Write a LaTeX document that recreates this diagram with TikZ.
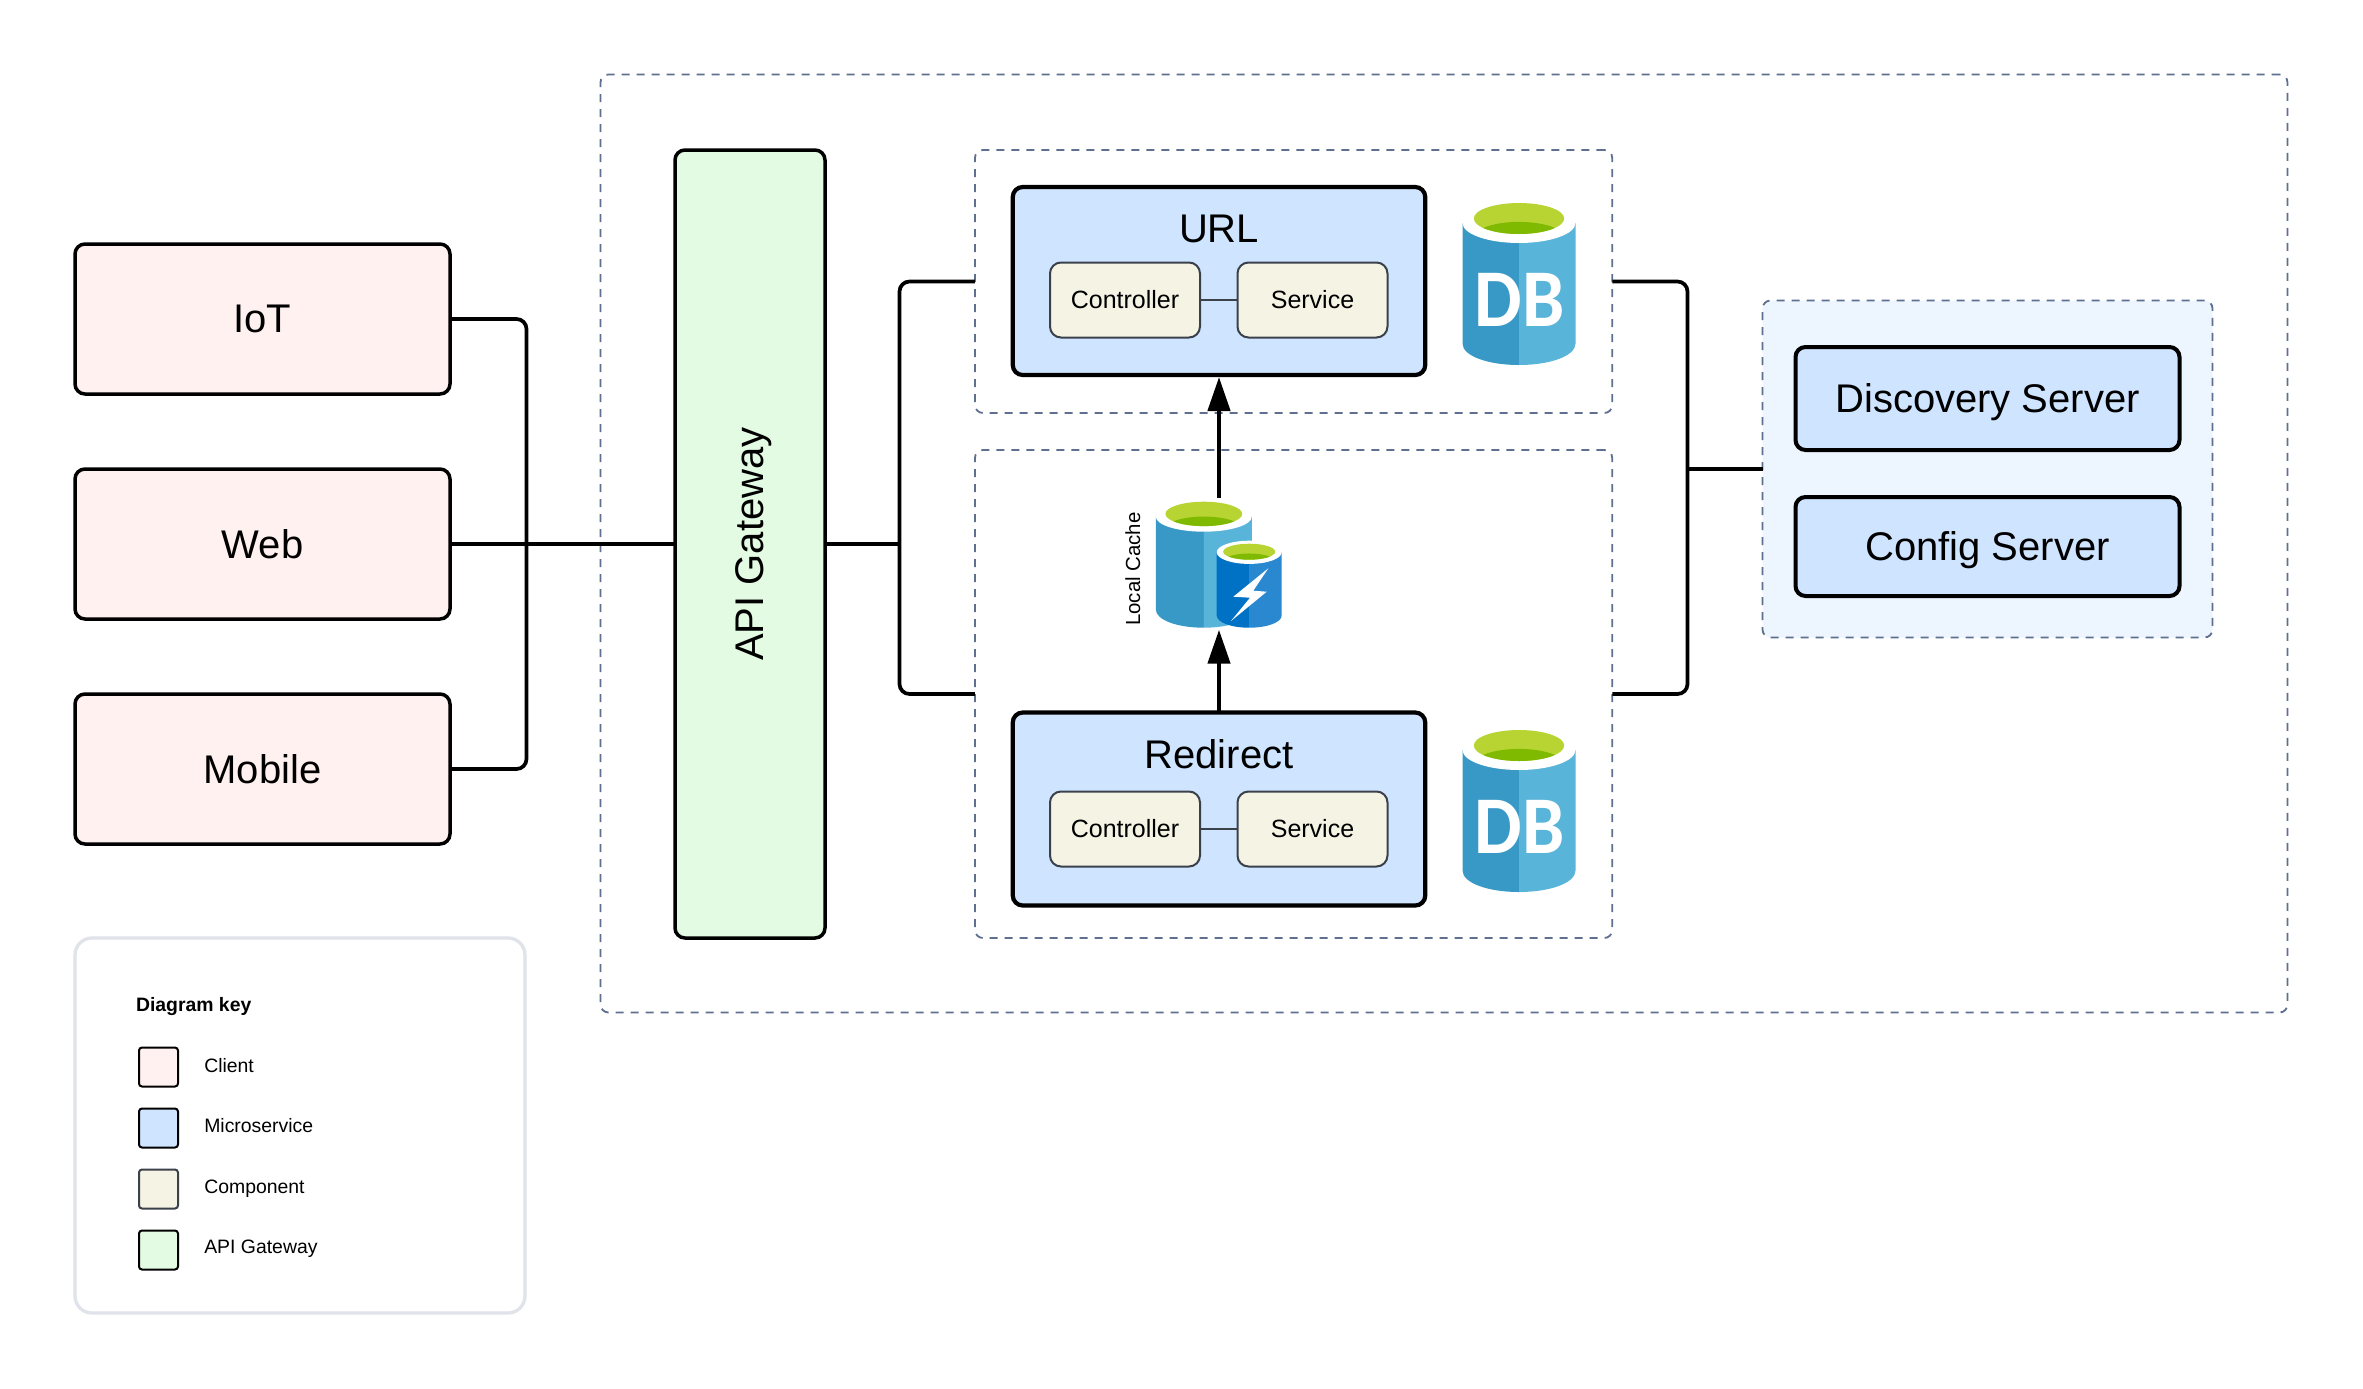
\documentclass[tikz,border=0pt]{standalone}
\usepackage{graphicx}
\usepackage{fontspec}
\setmainfont{Liberation Sans}
\newfontfamily\dbfont{Carlito}
\usetikzlibrary{arrows.meta}
\definecolor{dashc}{HTML}{5E6F8F}
\definecolor{clientc}{HTML}{FFF1F0}
\definecolor{msc}{HTML}{CFE4FF}
\definecolor{compc}{HTML}{F5F3E4}
\definecolor{gwc}{HTML}{E3FAE3}
\definecolor{infrac}{HTML}{EDF5FF}
\definecolor{compline}{HTML}{3A414A}
\definecolor{keyline}{HTML}{E0E3EA}
\definecolor{dbdark}{HTML}{3999C6}
\definecolor{dblight}{HTML}{59B4D9}
\definecolor{cachedark}{HTML}{0072C6}
\definecolor{cachelight}{HTML}{2A88D0}
\definecolor{greenlight}{HTML}{B8D432}
\definecolor{greendark}{HTML}{7FBA00}
\tikzset{
  every node/.style={inner sep=0pt,outer sep=0pt},
  bigtext/.style={font=\fontsize{20}{24}\selectfont,text=black},
  smalltext/.style={font=\fontsize{12.5}{15}\selectfont,text=black},
  keytext/.style={font=\fontsize{9.7}{12}\selectfont,text=black,anchor=west},
  clientbox/.style={bigtext,draw=black,fill=clientc,line width=1.75pt,rounded corners=5pt,minimum width=187.5pt,minimum height=75pt},
  gatewaybox/.style={draw=black,fill=gwc,line width=1.75pt,rounded corners=5pt,minimum width=75pt,minimum height=394pt},
  msbox/.style={draw=black,fill=msc,line width=2.1pt,rounded corners=5pt,minimum width=206.25pt},
  infrabox/.style={draw=black,fill=msc,line width=2pt,rounded corners=5pt,minimum width=192pt},
  compbox/.style={draw=compline,fill=compc,line width=1pt,rounded corners=5.5pt,minimum width=75pt,minimum height=37.5pt},
  groupbox/.style={draw=dashc,line width=.9pt,dash pattern=on 4pt off 3.5pt,rounded corners=4pt},
  keybox/.style={draw=keyline,line width=1.65pt,rounded corners=8.5pt,fill=white,minimum width=225pt,minimum height=187.5pt},
  swatch/.style={line width=1pt,rounded corners=1.5pt,minimum width=19.5pt,minimum height=19.5pt},
  conn/.style={draw=black,line width=1.85pt,rounded corners=5pt},
  compconn/.style={draw=compline,line width=1pt},
  callarrow/.style={draw=black,line width=2.25pt,-{Triangle[width=11pt,length=17pt]}},
  dbmark/.style={text=white,font=\dbfont\bfseries\fontsize{41}{41}\selectfont}
}
% cx rx top bottom rim-ry green-ry green-top dark light
\newcommand{\cylicon}[9]{%
  \fill[#8] (#1-#2,#3+#5) -- (#1,#3+#5) -- (#1,#4)
    .. controls (#1-.55*#2,#4) and (#1-#2,#4-.16*#2) .. (#1-#2,#4-.38*#2) -- cycle;
  \fill[#9] (#1+#2,#3+#5) -- (#1,#3+#5) -- (#1,#4)
    .. controls (#1+.55*#2,#4) and (#1+#2,#4-.16*#2) .. (#1+#2,#4-.38*#2) -- cycle;
  \fill[white] (#1,#3+#5) ellipse [x radius=#2,y radius=#5];
  \fill[greenlight] (#1,#7+#6) ellipse [x radius=.8*#2,y radius=#6];
  \begin{scope}
    \clip (#1,#7+#6) ellipse [x radius=.8*#2,y radius=#6];
    \fill[greendark] (#1,#7+2.22*#6) ellipse [x radius=.8*#2,y radius=#6];
  \end{scope}%
}
\begin{document}
\begin{tikzpicture}[x=.5pt,y=-.5pt]
\fill[white] (0,0) rectangle (2363,1388);

% groups
\node[groupbox,minimum width=843.5pt,minimum height=469pt] (outer) at (1444,543.5) {};
\node[groupbox,minimum width=318.65pt,minimum height=131.5pt] (urlgroup) at (1293.6,281.5) {};
\node[groupbox,minimum width=318.65pt,minimum height=244pt] (redirgroup) at (1293.6,694) {};
\node[groupbox,fill=infrac,minimum width=225pt,minimum height=168.5pt] (infra) at (1987.5,469) {};

% clients and gateway
\node[clientbox] (iot) at (262.5,319) {IoT};
\node[clientbox] (web) at (262.5,544) {Web};
\node[clientbox] (mobile) at (262.5,769) {Mobile};
\node[gatewaybox,bigtext] (gw) at (750,544) {\hspace*{4pt}\rotatebox{90}{API Gateway}};

% microservices
\node[msbox,minimum height=94pt] (urlbox) at (1219,281) {};
\node[bigtext] (urltitle) at (1219,229) {URL};
\node[compbox,smalltext] (urlctrl) at (1125,300) {Controller};
\node[compbox,smalltext] (urlsvc) at (1312.5,300) {Service};
\draw[compconn] (urlctrl) -- (urlsvc);

\node[msbox,minimum height=96.5pt] (redirbox) at (1219,809) {};
\node[bigtext] (redirtitle) at (1219,754) {Redirect};
\node[compbox,smalltext] (redirctrl) at (1125,829) {Controller};
\node[compbox,smalltext] (redirsvc) at (1312.5,829) {Service};
\draw[compconn] (redirctrl) -- (redirsvc);

% infrastructure
\node[infrabox,bigtext,minimum height=51.5pt] (discovery) at (1987.5,398.5) {\raisebox{-7.2pt}[0pt][0pt]{Discovery Server}};
\node[infrabox,bigtext,minimum height=49.5pt] (config) at (1987.5,546.5) {\raisebox{-7.2pt}[0pt][0pt]{Config Server}};

% DB icons
\cylicon{1519}{56.5}{203}{365}{20}{15.5}{203}{dbdark}{dblight}
\node[dbmark] (dbmarka) at (1519.5,300) {\scalebox{.92}[1]{DB}};
\cylicon{1519}{56.5}{730}{892}{20}{15.5}{730}{dbdark}{dblight}
\node[dbmark] (dbmarkb) at (1519.5,827) {\scalebox{.92}[1]{DB}};

% local cache icon
\node[minimum width=63pt,minimum height=63pt] (cache) at (1219,564.7) {};
\cylicon{1203.8}{48}{501.7}{627.7}{15}{12.2}{501.7}{dbdark}{dblight}
\cylicon{1249.2}{32.5}{540.7}{627.7}{11.6}{8}{543.7}{cachedark}{cachelight}
\fill[white] (1268.3,568.3) -- (1233.3,596.7) -- (1250,597.7) -- (1231,621)
  -- (1266.7,591.7) -- (1253.3,590.7) -- cycle;
\node[font=\fontsize{10.2}{12}\selectfont] (cachelabel) at (1132.7,569) {\rotatebox{90}{Local Cache}};

% connectors
\coordinate (busl) at (526.5,544);
\coordinate (busm) at (899.5,544);
\coordinate (busr) at (1687.5,469);
\draw[conn] (iot.east) -| (busl) |- (mobile.east);
\draw[conn] (web.east) -- (gw.west);
\draw[conn] (gw.east) -- (busm);
\draw[conn] (urlgroup.west) -| (busm) |- (redirgroup.west);
\draw[conn] (urlgroup.east) -| (busr) |- (redirgroup.east);
\draw[conn] (busr) -- (infra.west);
\draw[callarrow,shorten >=1pt] (redirbox.north) -- (cache.south);
\draw[callarrow,shorten <=2pt,shorten >=1pt] (cache.north) -- (urlbox.south);

% key
\node[keybox] (key) at (300,1125.5) {};
\node[keytext,font=\bfseries\fontsize{9.7}{12}\selectfont] (keytitle) at (136,1007) {Diagram key};
\node[swatch,draw=black,fill=clientc] (swa) at (158.5,1067) {};
\node[swatch,draw=black,fill=msc] (swb) at (158.5,1128) {};
\node[swatch,draw=compline,fill=compc] (swc) at (158.5,1189) {};
\node[swatch,draw=black,fill=gwc] (swd) at (158.5,1250) {};
\node[keytext] (keya) at (204.3,1065.5) {Client};
\node[keytext] (keyb) at (204.3,1126) {Microservice};
\node[keytext] (keyc) at (204.3,1188.5) {Component};
\node[keytext] (keyd) at (204.3,1249) {API Gateway};
\end{tikzpicture}
\end{document}
